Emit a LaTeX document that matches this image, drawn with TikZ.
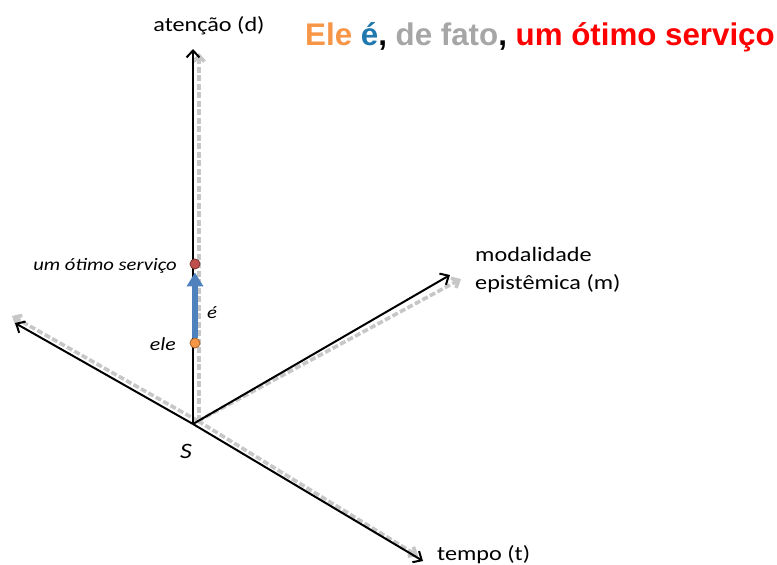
\documentclass[tikz,border=0pt]{standalone}
\usepackage{fontspec}
\usetikzlibrary{arrows.meta}
\setmainfont{Carlito}[FakeStretch=1.18]
\newfontfamily\headfont{Liberation Sans}
\definecolor{eleorange}{HTML}{F79646}
\definecolor{verbblue}{HTML}{1F78AE}
\definecolor{factgray}{HTML}{A6A6A6}
\definecolor{objred}{HTML}{FF0000}
\definecolor{arrowblue}{HTML}{4F81BD}
\definecolor{dotred}{HTML}{C0504D}

\begin{document}
\begin{tikzpicture}[
  x=1pt, y=-1pt,
  axis/.style={draw=black, line width=2pt, -{Straight Barb[length=7pt,width=13pt]}},
  shadow/.style={draw=black!22, line width=3.6pt, dash pattern=on 6pt off 2.5pt,
    -{Straight Barb[length=6pt,width=11pt]}},
  dot/.style={circle, minimum size=10pt, inner sep=0pt, line width=0.9pt},
  lbl/.style={inner sep=0pt, font=\fontsize{20.5}{28.5}\selectfont},
  small/.style={inner sep=0pt, font=\fontsize{17.5}{20}\selectfont\itshape}
]
  \useasboundingbox (0,0) rectangle (777,565);

  % origin and axis ends
  \coordinate (S) at (193,424);
  \coordinate (d) at (193,49);
  \coordinate (m) at (450,275);
  \coordinate (t) at (423,561);
  \coordinate (l) at (15,323);
  \coordinate (sS) at (198,421);
  \coordinate (sd) at (199,53);
  \coordinate (sm) at (461,279);
  \coordinate (st) at (418,556);
  \coordinate (sl) at (12,316);

  \draw[shadow] (sS) -- (sl);
  \draw[shadow] (sS) -- (st);
  \draw[shadow] (sS) -- (sm);
  \draw[shadow] ([xshift=1pt]sS) -- (sd);

  \draw[axis] (S) -- (d);
  \draw[axis] (S) -- (m);
  \draw[axis] (S) -- (t);
  \draw[axis] (S) -- (l);

  \node[dot, fill=eleorange, draw=eleorange!70!black] (ele) at (195,343) {};
  \node[dot, fill=dotred, draw=dotred!70!black] (serv) at (195,264) {};
  \draw[arrowblue, line width=6.5pt, shorten >=3pt,
    -{Triangle[length=14pt,width=16pt]}] (ele.north) -- (serv.south);

  \node[lbl, anchor=base] (att) at (209,31) {atenção (d)};
  \node[lbl, anchor=north west, align=left] (mod) at (475,247) {modalidade\\epistêmica (m)};
  \node[lbl, anchor=base west] (temp) at (437,560) {tempo (t)};
  \node[small, anchor=base east] (servlbl) at (177,270) {um ótimo serviço};
  \node[small, anchor=base east, font=\fontsize{18.5}{20}\selectfont\itshape] (elelbl) at (176,350) {ele};
  \node[small, anchor=base west] (elbl) at (207,318) {é};
  \node[small, anchor=base, font=\fontsize{22}{24}\selectfont\itshape] (Slbl) at (186,458) {S};

  \node[inner sep=0pt, anchor=base east, font=\headfont\bfseries\fontsize{31.3}{36}\selectfont] (title) at (775,45)
    {\textcolor{eleorange}{Ele} \textcolor{verbblue}{é}, \textcolor{factgray}{de fato}, \textcolor{objred}{um ótimo serviço}};
\end{tikzpicture}
\end{document}
